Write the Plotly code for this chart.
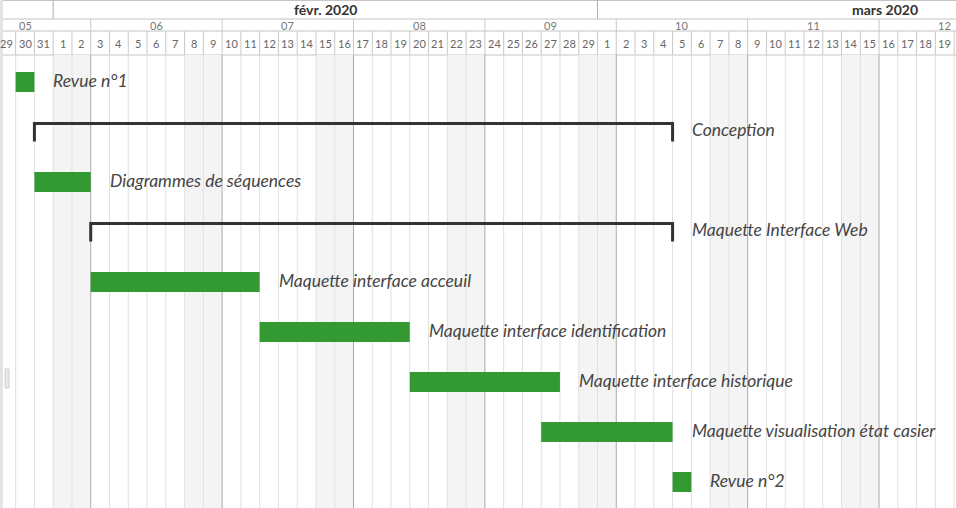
import pandas as pd
import plotly.graph_objects as go

# ---------------- data ----------------
tasks = ["Revue n°1", "Conception", "Diagrammes de séquences", "Maquette Interface Web",
         "Maquette interface acceuil", "Maquette interface identification",
         "Maquette interface historique", "Maquette visualisation état casier", "Revue n°2"]
starts = ["2020-01-30", "2020-01-31", "2020-01-31", "2020-02-03", "2020-02-03",
          "2020-02-12", "2020-02-20", "2020-02-27", "2020-03-05"]
ends = ["2020-01-31", "2020-03-05", "2020-02-03", "2020-03-05", "2020-02-12",
        "2020-02-20", "2020-02-28", "2020-03-05", "2020-03-06"]
kinds = ["task", "group", "task", "group", "task", "task", "task", "task", "task"]

month_starts = ["2020-01-01", "2020-02-01", "2020-03-01"]
month_labels = ["", "févr. 2020", "mars 2020"]

view_start = "2020-01-29 04:00"
view_end = "2020-03-20 02:24"

# ---------------- layout constants ----------------
W, H = 956, 508
ROW0_PX, ROW_PX = 82, 50
HDR_M, HDR_W, HDR_D = 19, 31, 55   # bottom of month / week / day header rows (px)
GREEN = "#339933"
BRACKET = "#333333"


def py(px):
    """pixel y -> y-axis units (row index)"""
    return (px - ROW0_PX) / ROW_PX


vs, ve = pd.Timestamp(view_start), pd.Timestamp(view_end)
days = pd.date_range(vs.normalize(), ve.normalize(), freq="D")

fig = go.Figure()
shapes = []
annotations = []

# weekend shading (body)
for d in days:
    if d.weekday() >= 5:
        shapes.append(dict(type="rect", xref="x", yref="y", x0=d, x1=d + pd.Timedelta(days=1),
                           y0=py(HDR_D), y1=py(H), fillcolor="#f4f4f4", line_width=0, layer="below"))

# day / week grid lines
for d in list(days) + [days[-1] + pd.Timedelta(days=1)]:
    monday = d.weekday() == 0
    shapes.append(dict(type="line", xref="x", yref="y", x0=d, x1=d, y0=py(HDR_D), y1=py(H),
                       line=dict(color="#ababab" if monday else "#e0e0e0", width=1), layer="below"))
    shapes.append(dict(type="line", xref="x", yref="y", x0=d, x1=d, y0=py(HDR_W), y1=py(HDR_D),
                       line=dict(color="#c8c8c8", width=1), layer="below"))
    if monday:
        shapes.append(dict(type="line", xref="x", yref="y", x0=d, x1=d, y0=py(HDR_M), y1=py(HDR_W),
                           line=dict(color="#c8c8c8", width=1), layer="below"))

# day labels
for d in days:
    annotations.append(dict(x=d + pd.Timedelta(hours=12), y=py(43.5), xref="x", yref="y",
                            text=str(d.day), showarrow=False,
                            font=dict(family="Lato", size=11, color="#666666")))

# week labels
mondays = pd.date_range(days[0] - pd.Timedelta(days=days[0].weekday()), days[-1], freq="7D")
for m in mondays:
    wk = m.isocalendar()[1]
    annotations.append(dict(x=m + pd.Timedelta(days=3.5), y=py(25), xref="x", yref="y",
                            text=f"{wk:02d}", showarrow=False,
                            font=dict(family="Lato", size=11, color="#777777")))

# month boundaries + labels
for ms, lab in zip(month_starts, month_labels):
    t = pd.Timestamp(ms)
    if vs < t < ve:
        shapes.append(dict(type="line", xref="x", yref="y", x0=t, x1=t, y0=py(0), y1=py(HDR_M),
                           line=dict(color="#b0b0b0", width=1), layer="below"))
annotations.append(dict(x=325 / W, y=py(9), xref="paper", yref="y", xanchor="center",
                        text="<b>" + month_labels[1] + "</b>",
                        showarrow=False, font=dict(family="Lato", size=14, color="#333333")))
annotations.append(dict(x=920 / W, y=py(9), xref="paper", yref="y", xanchor="right",
                        text="<b>" + month_labels[2] + "</b>",
                        showarrow=False, font=dict(family="Lato", size=14, color="#333333")))

# header horizontal lines
for yy in [0.5, HDR_M, HDR_W, HDR_D]:
    shapes.append(dict(type="line", xref="paper", yref="y", x0=0, x1=1, y0=py(yy), y1=py(yy),
                       line=dict(color="#c4c4c4", width=1), layer="below"))

# left strip and handle
shapes.append(dict(type="rect", xref="paper", yref="paper", x0=0, x1=3 / W, y0=0, y1=1,
                   fillcolor="#e4e4e4", line_width=0, layer="above"))
shapes.append(dict(type="rect", xref="paper", yref="y", x0=5 / W, x1=9 / W, y0=py(369), y1=py(388),
                   fillcolor="#e8e8e8", line=dict(color="#d0d0d0", width=1), layer="above"))

# ---------------- tasks ----------------
bar_rows, bar_base, bar_len = [], [], []
for i, (s, e, k) in enumerate(zip(starts, ends, kinds)):
    s_t, e_t = pd.Timestamp(s), pd.Timestamp(e)
    if k == "task":
        bar_rows.append(i)
        bar_base.append(s)
        bar_len.append((e_t - s_t).total_seconds() * 1000)
        yshift = 2
    else:
        fig.add_trace(go.Scatter(
            x=[s_t, s_t, e_t, e_t], y=[i + 0.19, i - 0.17, i - 0.17, i + 0.19],
            mode="lines", line=dict(color=BRACKET, width=3), hoverinfo="skip"))
        yshift = 3
    annotations.append(dict(x=e_t, y=i, xref="x", yref="y", text=tasks[i], showarrow=False,
                            xanchor="left", xshift=17, yshift=yshift,
                            font=dict(family="Lato", size=17.5, color="#454545",
                                      style="italic")))

fig.add_trace(go.Bar(y=bar_rows, x=bar_len, base=bar_base, orientation="h",
                     width=0.4, marker=dict(color=GREEN, line_width=0), hoverinfo="skip"))

fig.update_layout(
    width=W, height=H, margin=dict(l=0, r=0, t=0, b=0),
    paper_bgcolor="white", plot_bgcolor="white", showlegend=False,
    xaxis=dict(type="date", range=[vs, ve], showgrid=False, showticklabels=False,
               zeroline=False, fixedrange=True),
    yaxis=dict(range=[py(H), py(0)], showgrid=False, showticklabels=False,
               zeroline=False, fixedrange=True),
    shapes=shapes, annotations=annotations,
)

fig.write_html("out.html")
